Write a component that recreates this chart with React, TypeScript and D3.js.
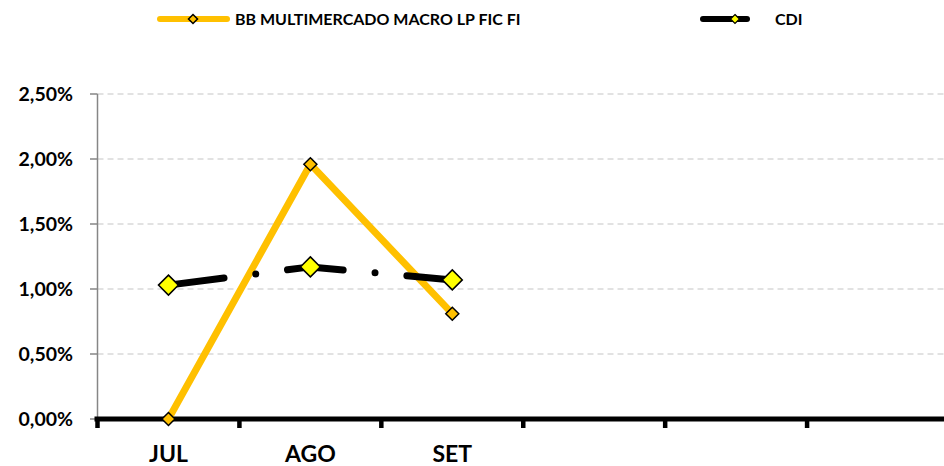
import React from "react";
import * as d3 from "d3";

const categories = ["JUL", "AGO", "SET", "", "", ""];
const bbValues = [0.0, 1.96, 0.81];
const cdiValues = [1.03, 1.17, 1.07];
const yTicks = [0, 0.5, 1.0, 1.5, 2.0, 2.5];
const seriesNames = ["BB MULTIMERCADO MACRO LP FIC FI", "CDI"];

const W = 944;
const H = 466;
const FONT = "Lato, 'Open Sans', sans-serif";

export default function App() {
  const x = d3.scaleBand<string>().domain(categories.map((c, i) => String(i))).range([97.5, 949]).padding(0);
  const y = d3.scaleLinear().domain([0, 2.5]).range([419, 94]);
  const cx = (i: number) => (x(String(i)) as number) + x.bandwidth() / 2;

  const line = d3
    .line<number>()
    .x((_, i) => cx(i))
    .y((v) => y(v));

  const fmt = (v: number) => v.toFixed(2).replace(".", ",") + "%";
  const diamond = (px: number, py: number, r: number) =>
    `M${px},${py - r}L${px + r},${py}L${px},${py + r}L${px - r},${py}Z`;

  const bounds = categories.map((_, i) => x(String(i)) as number);
  const x0 = 97.5;

  return (
    <svg
      width={W}
      height={H}
      style={{ position: "fixed", left: 0, top: 0, background: "#fff" }}
      fontFamily={FONT}
    >
      {/* gridlines */}
      {yTicks
        .filter((t) => t > 0)
        .map((t) => (
          <line
            key={"g" + t}
            x1={x0}
            x2={W}
            y1={y(t)}
            y2={y(t)}
            stroke="#D9D9D9"
            strokeWidth={1.5}
            strokeDasharray="6,4"
          />
        ))}
      {/* y axis */}
      <line x1={x0} x2={x0} y1={y(2.5)} y2={y(0)} stroke="#868686" strokeWidth={1.5} />
      {yTicks.map((t) => (
        <g key={"t" + t}>
          <line x1={90} x2={x0} y1={y(t)} y2={y(t)} stroke="#868686" strokeWidth={1.5} />
          <text
            x={73}
            y={y(t)}
            dy="0.36em"
            textAnchor="end"
            fontSize={19.5}
            fontWeight="bold"
            fill="#000"
          >
            {fmt(t)}
          </text>
        </g>
      ))}
      {/* x axis */}
      <line x1={x0 - 3} x2={W} y1={y(0)} y2={y(0)} stroke="#000" strokeWidth={5} />
      {bounds.map((b, i) => (
        <line key={"xt" + i} x1={b} x2={b} y1={y(0)} y2={428} stroke="#000" strokeWidth={4.5} />
      ))}
      {categories.map((c, i) =>
        c ? (
          <text
            key={"xl" + i}
            x={cx(i)}
            y={462}
            textAnchor="middle"
            fontSize={23}
            fontWeight="bold"
            fill="#000"
          >
            {c}
          </text>
        ) : null
      )}
      {/* BB series */}
      <path
        d={line(bbValues) || ""}
        fill="none"
        stroke="#FFC000"
        strokeWidth={7}
        strokeLinejoin="round"
      />
      {/* CDI series */}
      <path
        d={line(cdiValues) || ""}
        fill="none"
        stroke="#000"
        strokeWidth={7}
        strokeLinecap="round"
        strokeLinejoin="round"
        strokeDasharray="56,32,0,32"
      />
      {bbValues.map((v, i) => (
        <path key={"bm" + i} d={diamond(cx(i), y(v), 6.5)} fill="#FFC000" stroke="#000" strokeWidth={1.5} />
      ))}
      {cdiValues.map((v, i) => (
        <path key={"cm" + i} d={diamond(cx(i), y(v), 10)} fill="#FFFF00" stroke="#000" strokeWidth={1.5} />
      ))}
      {/* legend */}
      <line x1={160} x2={227} y1={19} y2={19} stroke="#FFC000" strokeWidth={6} strokeLinecap="round" />
      <path d={diamond(193, 19, 4.5)} fill="#FFC000" stroke="#000" strokeWidth={1.5} />
      <text x={235} y={25} fontSize={16} fontWeight="bold" fill="#000">
        {seriesNames[0]}
      </text>
      <line x1={703} x2={747} y1={19} y2={19} stroke="#000" strokeWidth={6} strokeLinecap="round" />
      <path d={diamond(735, 19, 4.5)} fill="#FFFF00" stroke="#000" strokeWidth={1.2} />
      <text x={775} y={25} fontSize={16} fontWeight="bold" fill="#000">
        {seriesNames[1]}
      </text>
    </svg>
  );
}
